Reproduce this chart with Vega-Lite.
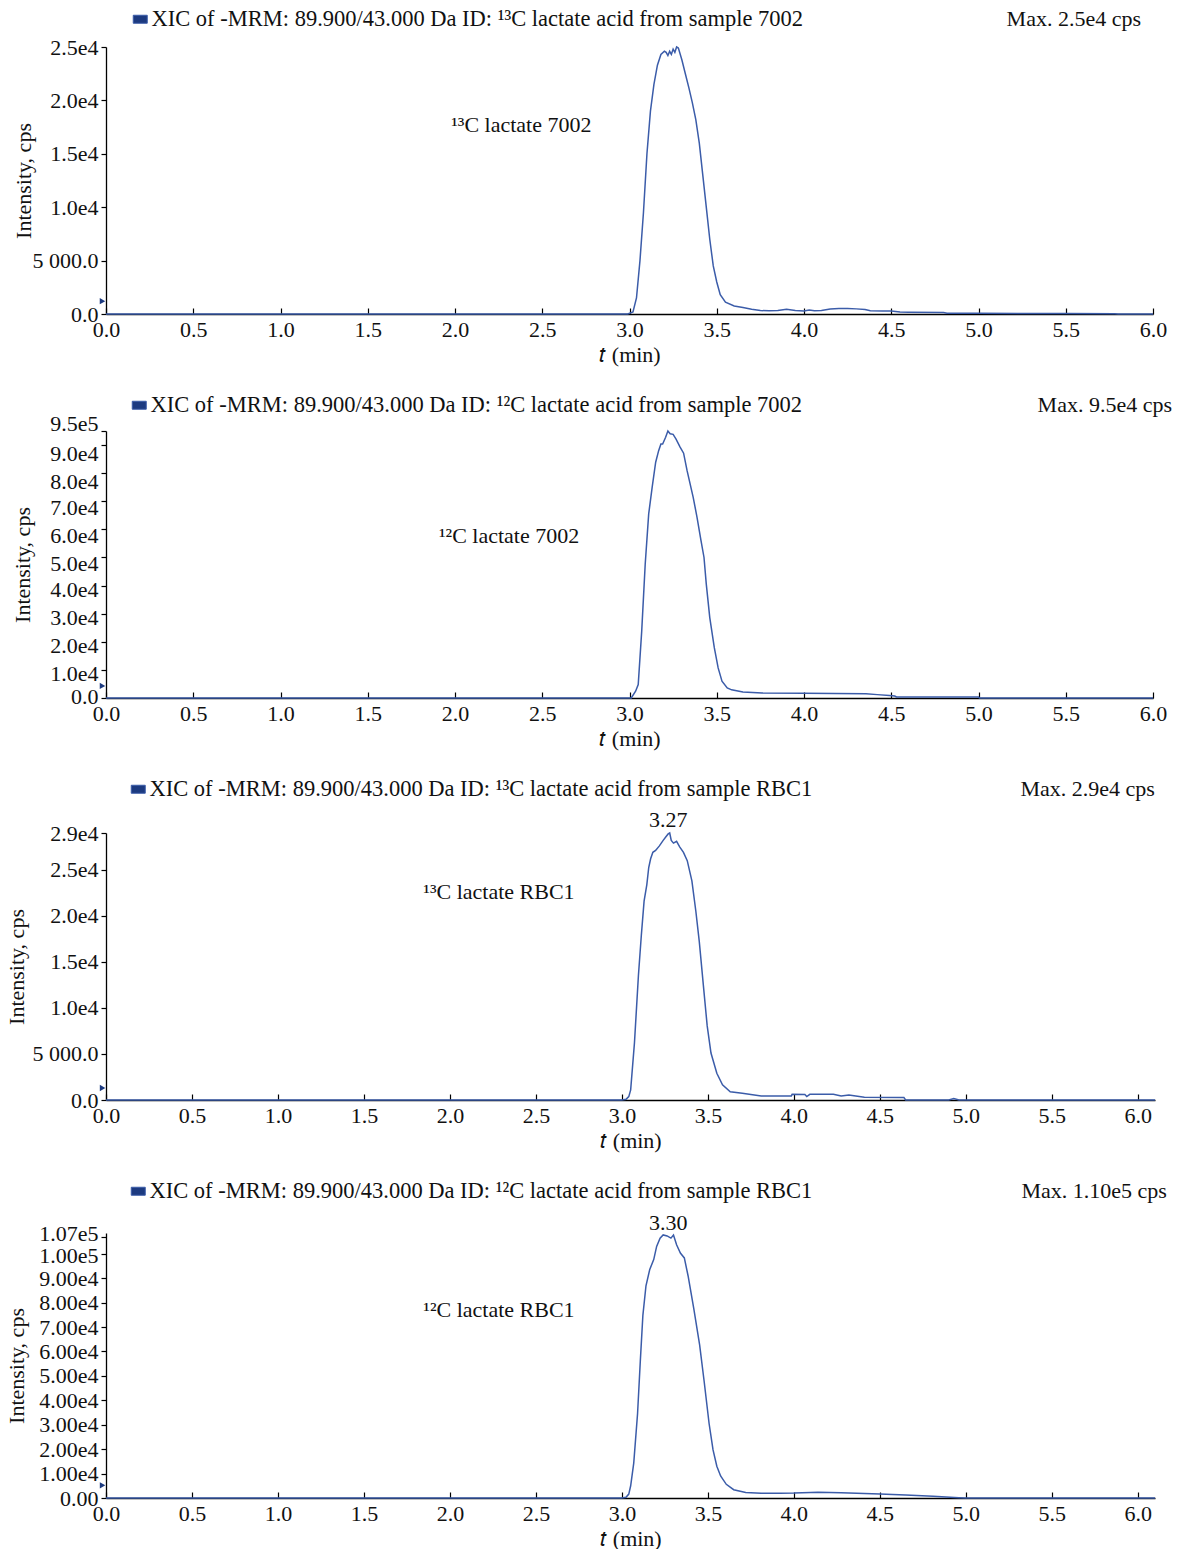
{
  "$schema": "https://vega.github.io/schema/vega-lite/v6.json",
  "background": "white",
  "padding": {"left": 5, "top": 8, "right": 3, "bottom": 0},
  "spacing": 29,
  "config": {
    "font": "Liberation Serif",
    "view": {"stroke": null},
    "axis": {
      "grid": false,
      "domainColor": "#000",
      "domainWidth": 1.3,
      "tickColor": "#000",
      "tickWidth": 1.2,
      "labelFont": "Liberation Serif",
      "labelFontSize": 22,
      "labelColor": "#111",
      "titleFont": "Liberation Serif",
      "titleFontSize": 22,
      "titleFontWeight": "normal",
      "titleColor": "#111",
      "labelOverlap": false,
      "labelFlush": false,
      "labelBound": false,
      "tickCount": 40
    },
    "axisX": {"tickSize": -6, "labelPadding": 11, "titlePadding": 4},
    "axisY": {"tickSize": 5, "labelPadding": 3},
    "text": {"font": "Liberation Serif", "fontSize": 22, "color": "#111"}
  },
  "resolve": {
    "scale": {"color": "independent", "x": "independent", "y": "independent"},
    "legend": {"color": "independent"}
  },
  "datasets": {
    "p1": [
      {"t": 0, "i": 0}, {"t": 2.99, "i": 0}, {"t": 3.02, "i": 200}, {"t": 3.04, "i": 1500}, {"t": 3.06, "i": 5000},
      {"t": 3.08, "i": 9500}, {"t": 3.10, "i": 15000}, {"t": 3.12, "i": 19000}, {"t": 3.14, "i": 21500}, {"t": 3.16, "i": 23300},
      {"t": 3.18, "i": 24300}, {"t": 3.20, "i": 24600}, {"t": 3.21, "i": 24500}, {"t": 3.22, "i": 24200}, {"t": 3.23, "i": 24600},
      {"t": 3.24, "i": 24300}, {"t": 3.25, "i": 24800}, {"t": 3.26, "i": 24500}, {"t": 3.27, "i": 25000}, {"t": 3.28, "i": 24900},
      {"t": 3.30, "i": 23800}, {"t": 3.32, "i": 22500}, {"t": 3.34, "i": 21200}, {"t": 3.36, "i": 19800}, {"t": 3.38, "i": 18200},
      {"t": 3.40, "i": 16000}, {"t": 3.42, "i": 13000}, {"t": 3.44, "i": 10000}, {"t": 3.46, "i": 7000}, {"t": 3.48, "i": 4500},
      {"t": 3.50, "i": 3000}, {"t": 3.52, "i": 1800}, {"t": 3.55, "i": 1100}, {"t": 3.60, "i": 750}, {"t": 3.65, "i": 600},
      {"t": 3.70, "i": 450}, {"t": 3.75, "i": 320}, {"t": 3.80, "i": 300}, {"t": 3.85, "i": 330}, {"t": 3.90, "i": 450},
      {"t": 3.95, "i": 330}, {"t": 4.00, "i": 280}, {"t": 4.03, "i": 380}, {"t": 4.06, "i": 300}, {"t": 4.10, "i": 320},
      {"t": 4.15, "i": 470}, {"t": 4.20, "i": 520}, {"t": 4.25, "i": 510}, {"t": 4.30, "i": 480}, {"t": 4.35, "i": 420},
      {"t": 4.38, "i": 300}, {"t": 4.45, "i": 290}, {"t": 4.50, "i": 280}, {"t": 4.55, "i": 180}, {"t": 4.60, "i": 160},
      {"t": 4.80, "i": 130}, {"t": 4.82, "i": 70}, {"t": 5.00, "i": 60}, {"t": 5.50, "i": 40}, {"t": 5.78, "i": 30},
      {"t": 5.80, "i": 0}, {"t": 6.0, "i": 0}
    ],
    "p2": [
      {"t": 0, "i": 0}, {"t": 3.01, "i": 0}, {"t": 3.035, "i": 2400}, {"t": 3.05, "i": 4800}, {"t": 3.07, "i": 23800},
      {"t": 3.09, "i": 47600}, {"t": 3.11, "i": 65500}, {"t": 3.13, "i": 75000}, {"t": 3.15, "i": 83900}, {"t": 3.167, "i": 88000},
      {"t": 3.18, "i": 90400}, {"t": 3.19, "i": 90400}, {"t": 3.207, "i": 92800}, {"t": 3.22, "i": 95000}, {"t": 3.233, "i": 94000},
      {"t": 3.25, "i": 93800}, {"t": 3.266, "i": 92200}, {"t": 3.29, "i": 89300}, {"t": 3.31, "i": 87100}, {"t": 3.33, "i": 80900},
      {"t": 3.365, "i": 71400}, {"t": 3.387, "i": 64300}, {"t": 3.41, "i": 55900}, {"t": 3.427, "i": 50000}, {"t": 3.44, "i": 40500},
      {"t": 3.46, "i": 28600}, {"t": 3.486, "i": 17900}, {"t": 3.508, "i": 10700}, {"t": 3.53, "i": 6000}, {"t": 3.56, "i": 3600},
      {"t": 3.585, "i": 2900}, {"t": 3.65, "i": 2100}, {"t": 3.76, "i": 1800}, {"t": 4.0, "i": 1700}, {"t": 4.355, "i": 1550},
      {"t": 4.42, "i": 1200}, {"t": 4.49, "i": 850}, {"t": 4.52, "i": 700}, {"t": 4.53, "i": 350}, {"t": 5.0, "i": 350},
      {"t": 5.005, "i": 0}, {"t": 6.0, "i": 0}
    ],
    "p3": [
      {"t": 0, "i": 0}, {"t": 3.0, "i": 0}, {"t": 3.024, "i": 70}, {"t": 3.04, "i": 370}, {"t": 3.051, "i": 1100},
      {"t": 3.073, "i": 6200}, {"t": 3.096, "i": 13500}, {"t": 3.113, "i": 17900}, {"t": 3.129, "i": 21600}, {"t": 3.145, "i": 23400},
      {"t": 3.156, "i": 25250}, {"t": 3.167, "i": 26200}, {"t": 3.18, "i": 26900}, {"t": 3.196, "i": 27100}, {"t": 3.218, "i": 27600},
      {"t": 3.24, "i": 28200}, {"t": 3.256, "i": 28600}, {"t": 3.269, "i": 28900}, {"t": 3.278, "i": 29000}, {"t": 3.287, "i": 28200},
      {"t": 3.30, "i": 27900}, {"t": 3.318, "i": 28100}, {"t": 3.336, "i": 27500}, {"t": 3.358, "i": 26900}, {"t": 3.38, "i": 26000},
      {"t": 3.407, "i": 23800}, {"t": 3.43, "i": 20500}, {"t": 3.45, "i": 17200}, {"t": 3.474, "i": 12400}, {"t": 3.496, "i": 8050},
      {"t": 3.518, "i": 5100}, {"t": 3.552, "i": 2900}, {"t": 3.585, "i": 1650}, {"t": 3.63, "i": 900}, {"t": 3.70, "i": 730},
      {"t": 3.81, "i": 440}, {"t": 3.985, "i": 440}, {"t": 3.99, "i": 620}, {"t": 4.064, "i": 590}, {"t": 4.075, "i": 370},
      {"t": 4.093, "i": 620}, {"t": 4.23, "i": 620}, {"t": 4.275, "i": 440}, {"t": 4.32, "i": 550}, {"t": 4.41, "i": 290},
      {"t": 4.64, "i": 260}, {"t": 4.65, "i": 0}, {"t": 4.90, "i": 0}, {"t": 4.93, "i": 150}, {"t": 4.96, "i": 0},
      {"t": 6.1, "i": 0}
    ],
    "p4": [
      {"t": 0, "i": 0}, {"t": 3.0, "i": 0}, {"t": 3.024, "i": 270}, {"t": 3.04, "i": 1600}, {"t": 3.051, "i": 5000},
      {"t": 3.069, "i": 14400}, {"t": 3.091, "i": 34500}, {"t": 3.107, "i": 56000}, {"t": 3.122, "i": 74800}, {"t": 3.14, "i": 86900},
      {"t": 3.162, "i": 93600}, {"t": 3.185, "i": 97600}, {"t": 3.202, "i": 103000}, {"t": 3.222, "i": 106400}, {"t": 3.24, "i": 107700},
      {"t": 3.263, "i": 107300}, {"t": 3.285, "i": 106400}, {"t": 3.30, "i": 107700}, {"t": 3.318, "i": 103700}, {"t": 3.34, "i": 100300},
      {"t": 3.363, "i": 98300}, {"t": 3.385, "i": 90900}, {"t": 3.418, "i": 77500}, {"t": 3.452, "i": 62700}, {"t": 3.478, "i": 47900},
      {"t": 3.507, "i": 30500}, {"t": 3.53, "i": 19700}, {"t": 3.552, "i": 13000}, {"t": 3.574, "i": 9000}, {"t": 3.607, "i": 5600},
      {"t": 3.65, "i": 3400}, {"t": 3.72, "i": 2300}, {"t": 3.81, "i": 1900}, {"t": 3.92, "i": 1900}, {"t": 4.0, "i": 2000},
      {"t": 4.097, "i": 2300}, {"t": 4.14, "i": 2400}, {"t": 4.275, "i": 2150}, {"t": 4.5, "i": 1600}, {"t": 4.65, "i": 1200},
      {"t": 4.81, "i": 670}, {"t": 4.96, "i": 130}, {"t": 5.0, "i": 0}, {"t": 6.1, "i": 0}
    ],
    "one": [{"n": 1}]
  },
  "vconcat": [
    {
      "width": 1047, "height": 267,
      "layer": [
        {
          "data": {"name": "p1"},
          "mark": {"type": "line", "strokeWidth": 1.5},
          "encoding": {
            "x": {"field": "t", "type": "quantitative",
              "scale": {"domain": [0, 6], "nice": false, "zero": false},
              "axis": {"values": [0, 0.5, 1, 1.5, 2, 2.5, 3, 3.5, 4, 4.5, 5, 5.5, 6], "tickCount": 40, "format": ".1f", "title": "𝑡 (min)", "labelOverlap": false}},
            "y": {"field": "i", "type": "quantitative",
              "scale": {"domain": [0, 25000], "nice": false},
              "axis": {"values": [0, 5000, 10000, 15000, 20000, 25000], "tickCount": 40, "labelOverlap": false, "labelExpr": "datum.value == 0 ? '0.0' : datum.value == 5000 ? '5 000.0' : format(datum.value / 10000, '.1f') + 'e4'", "title": "Intensity, cps", "titlePadding": -3}},
            "color": {"datum": "XIC of -MRM: 89.900/43.000 Da ID: ¹³C lactate acid from sample 7002",
              "scale": {"range": ["#3b5ca9"]},
              "legend": {"orient": "none", "legendX": 23, "legendY": -39, "title": null, "padding": 0,
                "labelFontSize": 22.5, "labelFont": "Liberation Serif", "labelColor": "#111", "labelLimit": 0, "labelOffset": 0,
                "symbolType": "M-1,-0.57H1V0.57H-1Z", "symbolSize": 196,
                "encode": {"symbols": {"update": {"shape": {"value": "M-1,-0.57H1V0.57H-1Z"}, "size": {"value": 196}, "fill": {"value": "#1c3a80"}, "fillOpacity": {"value": 1}, "stroke": {"value": "#000"}, "strokeWidth": {"value": 1}, "opacity": {"value": 1}}}}}}
          }
        },
        {"data": {"name": "one"}, "mark": {"type": "text", "align": "center", "baseline": "middle"},
          "encoding": {"x": {"datum": 2.38}, "y": {"datum": 17700}, "text": {"value": "¹³C lactate 7002"}}},
        {"data": {"name": "one"}, "mark": {"type": "text", "align": "right", "baseline": "middle", "dx": -12, "dy": -28},
          "encoding": {"x": {"datum": 6}, "y": {"datum": 25000}, "text": {"value": "Max. 2.5e4 cps"}}},
        {"data": {"name": "one"}, "mark": {"type": "point", "shape": "triangle-right", "filled": true, "size": 40, "color": "#1c3a80", "opacity": 1},
          "encoding": {"x": {"datum": -0.02}, "y": {"datum": 1200}}}
      ]
    },
    {
      "width": 1047, "height": 267,
      "layer": [
        {
          "data": {"name": "p2"},
          "mark": {"type": "line", "strokeWidth": 1.5},
          "encoding": {
            "x": {"field": "t", "type": "quantitative",
              "scale": {"domain": [0, 6], "nice": false, "zero": false},
              "axis": {"values": [0, 0.5, 1, 1.5, 2, 2.5, 3, 3.5, 4, 4.5, 5, 5.5, 6], "tickCount": 40, "format": ".1f", "title": "𝑡 (min)", "labelOverlap": false}},
            "y": {"field": "i", "type": "quantitative",
              "scale": {"domain": [0, 95000], "nice": false},
              "axis": {"values": [0, 10000, 20000, 30000, 40000, 50000, 60000, 70000, 80000, 90000, 95000], "tickCount": 40, "labelOverlap": false,
                "labelOffset": {"condition": [{"test": "datum.value == 95000", "value": -8}, {"test": "datum.value >= 80000", "value": 8}, {"test": "datum.value >= 50000", "value": 6}, {"test": "datum.value == 0", "value": -2}], "value": 4},
                "labelExpr": "datum.value == 0 ? '0.0' : datum.value == 95000 ? '9.5e5' : format(datum.value / 10000, '.1f') + 'e4'", "title": "Intensity, cps", "titlePadding": 15}},
            "color": {"datum": "XIC of -MRM: 89.900/43.000 Da ID: ¹²C lactate acid from sample 7002",
              "scale": {"range": ["#3b5ca9"]},
              "legend": {"orient": "none", "legendX": 22, "legendY": -37, "title": null, "padding": 0,
                "labelFontSize": 22.5, "labelFont": "Liberation Serif", "labelColor": "#111", "labelLimit": 0, "labelOffset": 0,
                "symbolType": "M-1,-0.57H1V0.57H-1Z", "symbolSize": 196,
                "encode": {"symbols": {"update": {"shape": {"value": "M-1,-0.57H1V0.57H-1Z"}, "size": {"value": 196}, "fill": {"value": "#1c3a80"}, "fillOpacity": {"value": 1}, "stroke": {"value": "#000"}, "strokeWidth": {"value": 1}, "opacity": {"value": 1}}}}}}
          }
        },
        {"data": {"name": "one"}, "mark": {"type": "text", "align": "center", "baseline": "middle"},
          "encoding": {"x": {"datum": 2.31}, "y": {"datum": 57500}, "text": {"value": "¹²C lactate 7002"}}},
        {"data": {"name": "one"}, "mark": {"type": "text", "align": "right", "baseline": "middle", "dx": 19, "dy": -26},
          "encoding": {"x": {"datum": 6}, "y": {"datum": 95000}, "text": {"value": "Max. 9.5e4 cps"}}},
        {"data": {"name": "one"}, "mark": {"type": "point", "shape": "triangle-right", "filled": true, "size": 40, "color": "#1c3a80", "opacity": 1},
          "encoding": {"x": {"datum": -0.02}, "y": {"datum": 4300}}}
      ]
    },
    {
      "width": 1049, "height": 267,
      "layer": [
        {
          "data": {"name": "p3"},
          "mark": {"type": "line", "strokeWidth": 1.5},
          "encoding": {
            "x": {"field": "t", "type": "quantitative",
              "scale": {"domain": [0, 6.1], "nice": false, "zero": false},
              "axis": {"values": [0, 0.5, 1, 1.5, 2, 2.5, 3, 3.5, 4, 4.5, 5, 5.5, 6], "tickCount": 40, "format": ".1f", "title": "𝑡 (min)", "labelOverlap": false}},
            "y": {"field": "i", "type": "quantitative",
              "scale": {"domain": [0, 29000], "nice": false},
              "axis": {"values": [0, 5000, 10000, 15000, 20000, 25000, 29000], "tickCount": 40, "labelOverlap": false, "labelExpr": "datum.value == 0 ? '0.0' : datum.value == 5000 ? '5 000.0' : format(datum.value / 10000, '.1f') + 'e4'", "title": "Intensity, cps", "titlePadding": 4}},
            "color": {"datum": "XIC of -MRM: 89.900/43.000 Da ID: ¹³C lactate acid from sample RBC1",
              "scale": {"range": ["#3b5ca9"]},
              "legend": {"orient": "none", "legendX": 21, "legendY": -55, "title": null, "padding": 0,
                "labelFontSize": 22.5, "labelFont": "Liberation Serif", "labelColor": "#111", "labelLimit": 0, "labelOffset": 0,
                "symbolType": "M-1,-0.57H1V0.57H-1Z", "symbolSize": 196,
                "encode": {"symbols": {"update": {"shape": {"value": "M-1,-0.57H1V0.57H-1Z"}, "size": {"value": 196}, "fill": {"value": "#1c3a80"}, "fillOpacity": {"value": 1}, "stroke": {"value": "#000"}, "strokeWidth": {"value": 1}, "opacity": {"value": 1}}}}}}
          }
        },
        {"data": {"name": "one"}, "mark": {"type": "text", "align": "center", "baseline": "middle"},
          "encoding": {"x": {"datum": 2.285}, "y": {"datum": 22600}, "text": {"value": "¹³C lactate RBC1"}}},
        {"data": {"name": "one"}, "mark": {"type": "text", "align": "center", "baseline": "alphabetic", "dy": -6},
          "encoding": {"x": {"datum": 3.27}, "y": {"datum": 29000}, "text": {"value": "3.27"}}},
        {"data": {"name": "one"}, "mark": {"type": "text", "align": "right", "baseline": "middle", "dx": 17, "dy": -44},
          "encoding": {"x": {"datum": 6}, "y": {"datum": 29000}, "text": {"value": "Max. 2.9e4 cps"}}},
        {"data": {"name": "one"}, "mark": {"type": "point", "shape": "triangle-right", "filled": true, "size": 40, "color": "#1c3a80", "opacity": 1},
          "encoding": {"x": {"datum": -0.02}, "y": {"datum": 1300}}}
      ]
    },
    {
      "width": 1049, "height": 265,
      "layer": [
        {
          "data": {"name": "p4"},
          "mark": {"type": "line", "strokeWidth": 1.5},
          "encoding": {
            "x": {"field": "t", "type": "quantitative",
              "scale": {"domain": [0, 6.1], "nice": false, "zero": false},
              "axis": {"values": [0, 0.5, 1, 1.5, 2, 2.5, 3, 3.5, 4, 4.5, 5, 5.5, 6], "tickCount": 40, "format": ".1f", "title": "𝑡 (min)", "labelOverlap": false}},
            "y": {"field": "i", "type": "quantitative",
              "scale": {"domain": [0, 108500], "nice": false},
              "axis": {"values": [0, 10000, 20000, 30000, 40000, 50000, 60000, 70000, 80000, 90000, 100000, 107000], "tickCount": 40, "labelOverlap": false,
                "labelOffset": {"condition": [{"test": "datum.value == 107000", "value": -3}, {"test": "datum.value == 100000", "value": 2}], "value": 0},
                "labelExpr": "datum.value == 0 ? '0.00' : datum.value >= 100000 ? format(datum.value / 100000, '.2f') + 'e5' : format(datum.value / 10000, '.2f') + 'e4'", "title": "Intensity, cps", "titlePadding": 10}},
            "color": {"datum": "XIC of -MRM: 89.900/43.000 Da ID: ¹²C lactate acid from sample RBC1",
              "scale": {"range": ["#3b5ca9"]},
              "legend": {"orient": "none", "legendX": 21, "legendY": -53, "title": null, "padding": 0,
                "labelFontSize": 22.5, "labelFont": "Liberation Serif", "labelColor": "#111", "labelLimit": 0, "labelOffset": 0,
                "symbolType": "M-1,-0.57H1V0.57H-1Z", "symbolSize": 196,
                "encode": {"symbols": {"update": {"shape": {"value": "M-1,-0.57H1V0.57H-1Z"}, "size": {"value": 196}, "fill": {"value": "#1c3a80"}, "fillOpacity": {"value": 1}, "stroke": {"value": "#000"}, "strokeWidth": {"value": 1}, "opacity": {"value": 1}}}}}}
          }
        },
        {"data": {"name": "one"}, "mark": {"type": "text", "align": "center", "baseline": "middle"},
          "encoding": {"x": {"datum": 2.285}, "y": {"datum": 77000}, "text": {"value": "¹²C lactate RBC1"}}},
        {"data": {"name": "one"}, "mark": {"type": "text", "align": "center", "baseline": "alphabetic", "dy": -5},
          "encoding": {"x": {"datum": 3.27}, "y": {"datum": 107700}, "text": {"value": "3.30"}}},
        {"data": {"name": "one"}, "mark": {"type": "text", "align": "right", "baseline": "middle", "dx": 29, "dy": -42},
          "encoding": {"x": {"datum": 6}, "y": {"datum": 108500}, "text": {"value": "Max. 1.10e5 cps"}}},
        {"data": {"name": "one"}, "mark": {"type": "point", "shape": "triangle-right", "filled": true, "size": 40, "color": "#1c3a80", "opacity": 1},
          "encoding": {"x": {"datum": -0.02}, "y": {"datum": 5200}}}
      ]
    }
  ]
}
